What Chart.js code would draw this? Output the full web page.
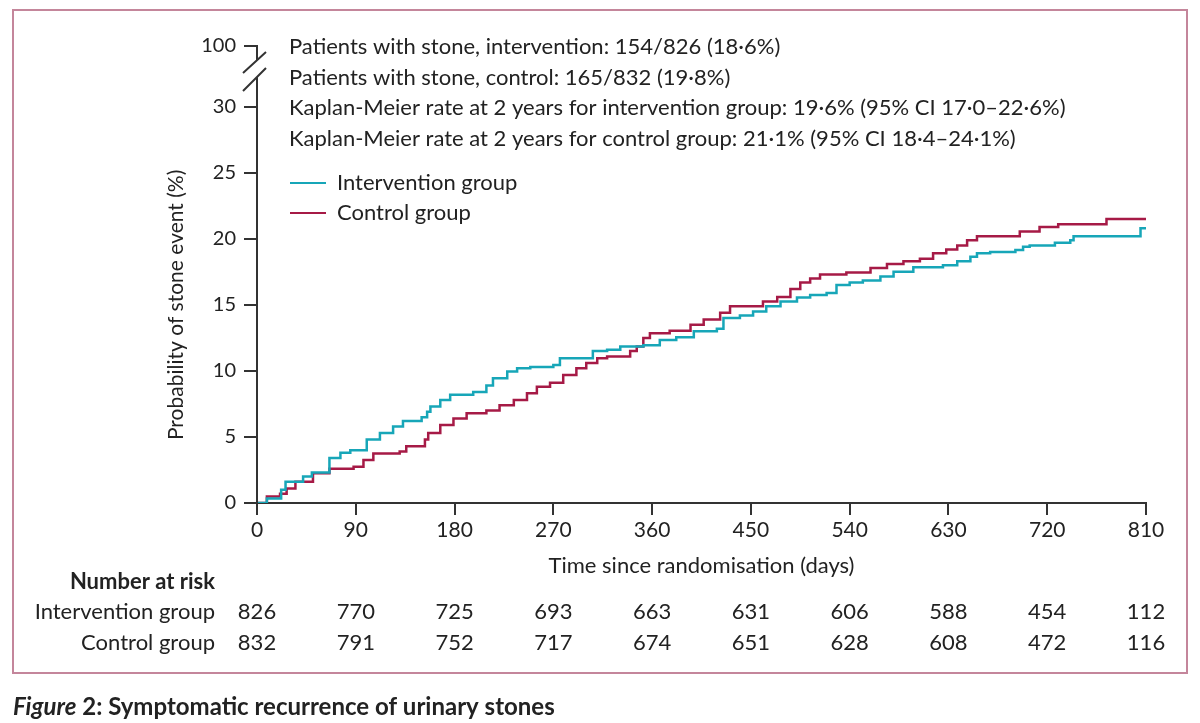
<!DOCTYPE html>
<html>
<head>
<meta charset="utf-8">
<script src="https://cdn.jsdelivr.net/npm/chart.js@4"></script>
<style>
  body { margin: 0; background: #fff; }
  #wrap { width: 1200px; height: 723px; position: relative; }
</style>
</head>
<body>
<div id="wrap"><canvas id="myChart"></canvas></div>
<script>
// Kaplan-Meier steps (days, cumulative %)
const interventionDays = [0, 9, 22, 26, 42, 50, 66, 76, 85, 100, 112, 124, 133, 150, 155, 158, 167, 176, 197, 209,
    215, 228, 237, 249, 270, 276, 306, 319, 331, 352, 367, 382, 398, 419, 425, 440, 452, 464, 477, 492,
    504, 519, 528, 540, 552, 568, 580, 598, 625, 638, 650, 656, 668, 691, 698, 704, 727, 741, 744, 805, 810];
const interventionPct = [0, 0.35, 1.0, 1.6, 2.0, 2.3, 3.4, 3.8, 4.0, 4.8, 5.3, 5.8, 6.2, 6.5, 6.9, 7.3, 7.8, 8.2, 8.4, 8.9,
    9.45, 9.95, 10.2, 10.3, 10.45, 10.95, 11.5, 11.6, 11.85, 11.95, 12.35, 12.55, 13.0, 13.2, 14.0, 14.2, 14.5, 14.9, 15.25, 15.55,
    15.75, 15.9, 16.5, 16.7, 16.85, 17.15, 17.5, 17.85, 18.0, 18.3, 18.65, 18.9, 19.0, 19.15, 19.4, 19.5, 19.7, 19.9, 20.2, 20.8, 20.8];

const controlDays = [0, 9, 21, 27, 35, 51, 66, 88, 97, 106, 130, 136, 153, 156, 167, 179, 191, 209, 221, 234,
    246, 255, 267, 279, 291, 300, 310, 319, 340, 346, 352, 358, 376, 395, 407, 422, 431, 461, 474, 486,
    495, 504, 513, 537, 559, 574, 589, 604, 616, 628, 638, 647, 656, 695, 713, 730, 774, 810];
const controlPct = [0, 0.5, 0.7, 1.1, 1.6, 2.25, 2.6, 2.75, 3.25, 3.75, 3.9, 4.3, 4.8, 5.3, 5.9, 6.4, 6.8, 7.0, 7.4, 7.8,
    8.3, 8.8, 9.1, 9.7, 10.2, 10.6, 10.95, 11.1, 11.5, 11.85, 12.5, 12.85, 13.05, 13.5, 13.9, 14.4, 14.9, 15.25, 15.6, 16.2,
    16.7, 17.0, 17.3, 17.45, 17.8, 18.1, 18.3, 18.5, 18.9, 19.2, 19.5, 19.9, 20.2, 20.55, 20.9, 21.1, 21.5, 21.5];

const xTicks = [0, 90, 180, 270, 360, 450, 540, 630, 720, 810];
const yTicks = [0, 5, 10, 15, 20, 25, 30];
const yBreakTop = 34.6;                 // where "100" sits above the axis break
const yTopLabel = '100';

const interventionAtRisk = [826, 770, 725, 693, 663, 631, 606, 588, 454, 112];
const controlAtRisk = [832, 791, 752, 717, 674, 651, 628, 608, 472, 116];

const notes = [
    'Patients with stone, intervention: 154/826 (18\u00b76%)',
    'Patients with stone, control: 165/832 (19\u00b78%)',
    'Kaplan-Meier rate at 2 years for intervention group: 19\u00b76% (95% CI 17\u00b70\u201322\u00b76%)',
    'Kaplan-Meier rate at 2 years for control group: 21\u00b71% (95% CI 18\u00b74\u201324\u00b71%)'
];

const teal = '#17a6b8';
const crimson = '#a61a46';
const ink = '#222';
const FONT = 'Lato';

function toPoints(xs, ys) {
    return xs.map((d, i) => ({x: d, y: ys[i]}));
}

const extras = {
    id: 'extras',
    beforeDraw(chart) {
        const c = chart.ctx;
        c.save();
        c.strokeStyle = '#c4869b';
        c.lineWidth = 2;
        c.strokeRect(13, 10, 1174, 663);
        c.restore();
    },
    afterDraw(chart) {
        const c = chart.ctx;
        const x = chart.scales.x, y = chart.scales.y;
        const ax = x.left;
        c.save();
        // y axis with break
        c.strokeStyle = '#333';
        c.lineWidth = 2;
        c.beginPath();
        c.moveTo(ax, y.bottom + 1); c.lineTo(ax, 77);
        c.moveTo(ax, 60); c.lineTo(ax, y.getPixelForValue(yBreakTop) - 1);
        c.moveTo(ax - 14, 73); c.lineTo(ax + 9, 52);
        c.moveTo(ax - 14, 91); c.lineTo(ax + 9, 68);
        c.stroke();

        c.fillStyle = ink;
        c.textBaseline = 'middle';
        // notes
        c.font = '22px ' + FONT;
        c.textAlign = 'left';
        notes.forEach((t, i) => c.fillText(t, 289, 47 + i * 30.7));
        // legend
        [[teal, 'Intervention group', 183], [crimson, 'Control group', 213]].forEach(([col, lab, ly]) => {
            c.strokeStyle = col;
            c.lineWidth = 2;
            c.beginPath(); c.moveTo(290, ly); c.lineTo(326, ly); c.stroke();
            c.fillText(lab, 337, ly);
        });

        // y title
        c.save();
        c.translate(176, (y.getPixelForValue(0) + y.getPixelForValue(30)) / 2);
        c.rotate(-Math.PI / 2);
        c.textAlign = 'center';
        c.font = '21px ' + FONT;
        c.fillText('Probability of stone event (%)', 0, 0);
        c.restore();

        // number at risk
        c.textAlign = 'right';
        c.font = 'bold 22px ' + FONT;
        c.fillText('Number at risk', 215, 582);
        c.font = '22px ' + FONT;
        c.fillText('Intervention group', 215, 612);
        c.fillText('Control group', 215, 643);
        c.textAlign = 'center';
        xTicks.forEach((d, i) => {
            const px = x.getPixelForValue(d);
            c.fillText(String(interventionAtRisk[i]), px, 612);
            c.fillText(String(controlAtRisk[i]), px, 643);
        });

        // caption
        c.textAlign = 'left';
        c.font = 'italic bold 24px ' + FONT;
        c.fillText('Figure', 13, 707);
        let w = c.measureText('Figure').width;
        c.font = 'bold 24px ' + FONT;
        c.fillText(' 2: Symptomatic recurrence of urinary stones', 13 + w, 707);
        c.restore();
    }
};

const ctx = document.getElementById('myChart');
const myChart = new Chart(ctx, {
    type: 'line',
    data: {
        datasets: [{
            label: 'Intervention group',
            data: toPoints(interventionDays, interventionPct),
            borderColor: teal,
            borderWidth: 2.5,
            stepped: true,
            pointRadius: 0,
            fill: false
        }, {
            label: 'Control group',
            data: toPoints(controlDays, controlPct),
            borderColor: crimson,
            borderWidth: 2.5,
            stepped: true,
            pointRadius: 0,
            fill: false
        }]
    },
    options: {
        responsive: true,
        maintainAspectRatio: false,
        animation: false,
        layout: {
            padding: {left: 150, right: 54, top: 46, bottom: 144}
        },
        scales: {
            x: {
                type: 'linear',
                min: 0,
                max: 810,
                afterBuildTicks: s => { s.ticks = xTicks.map(v => ({value: v})); },
                afterFit: s => { s.height = 76; },
                ticks: {
                    color: ink,
                    font: {family: FONT, size: 21},
                    padding: 3,
                    maxRotation: 0
                },
                grid: {
                    drawOnChartArea: false,
                    drawTicks: true,
                    tickLength: 12,
                    color: '#333',
                    lineWidth: 2
                },
                border: {display: true, color: '#333', width: 2},
                title: {
                    display: true,
                    text: 'Time since randomisation (days)',
                    color: ink,
                    font: {family: FONT, size: 22},
                    padding: 0
                }
            },
            y: {
                type: 'linear',
                min: 0,
                max: yBreakTop,
                afterBuildTicks: s => {
                    s.ticks = yTicks.concat([yBreakTop]).map(v => ({value: v}));
                },
                afterFit: s => { s.width = 107; },
                ticks: {
                    color: ink,
                    font: {family: FONT, size: 20},
                    padding: 8,
                    callback: v => (v === yBreakTop ? yTopLabel : v)
                },
                grid: {
                    drawOnChartArea: false,
                    drawTicks: true,
                    tickLength: 13,
                    color: '#333',
                    lineWidth: 2
                },
                border: {display: false}
            }
        },
        plugins: {
            legend: {display: false},
            tooltip: {enabled: false}
        }
    },
    plugins: [extras]
});
</script>
</body>
</html>
